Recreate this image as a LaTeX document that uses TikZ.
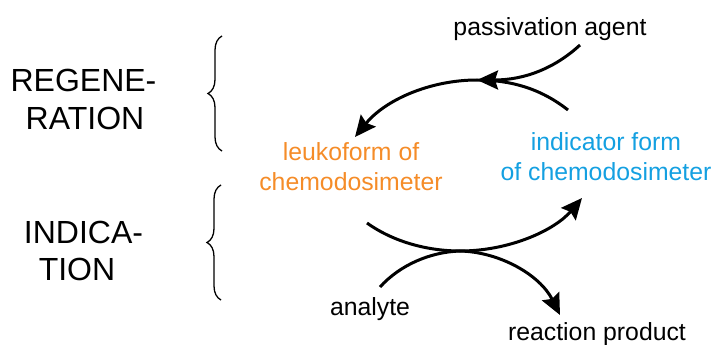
\documentclass[tikz,border=0pt]{standalone}
\usepackage{fontspec}
\setmainfont{Liberation Sans}
\usetikzlibrary{arrows.meta,decorations.pathreplacing}
\definecolor{leuko}{RGB}{245,140,40}
\definecolor{indic}{RGB}{20,160,225}
\begin{document}
\begin{tikzpicture}[x=1pt,y=-1pt,
  lbl/.style={inner sep=0pt,anchor=base,font=\fontsize{24.8}{30}\selectfont},
  biglbl/.style={inner sep=0pt,anchor=base,font=\fontsize{32}{37}\selectfont},
  flow/.style={line width=3pt,-{Stealth[length=21pt,width=19pt,inset=3pt]}},
  brc/.style={line width=1.3pt,decorate,decoration={brace,amplitude=14pt,aspect=0.5}}]
\useasboundingbox (0,0) rectangle (715,345);
% left labels
\node[biglbl] (r1) at (83.5,92) {REGENE-};
\node[biglbl] (r2) at (85,129) {RATION};
\node[biglbl] (i1) at (83.5,243) {INDICA-};
\node[biglbl] (i2) at (77,280) {TION};
% braces
\coordinate (b1b) at (222,151);
\coordinate (b1t) at (222,36);
\coordinate (b2b) at (221,300);
\coordinate (b2t) at (221,185);
\draw[brc] (b1b) -- (b1t);
\draw[brc] (b2b) -- (b2t);
% texts
\node[lbl,text=leuko] (l1) at (351,160) {leukoform of};
\node[lbl,text=leuko] (l2) at (351,190) {chemodosimeter};
\node[lbl,text=indic] (f1) at (606,150) {indicator form};
\node[lbl,text=indic] (f2) at (606,180) {of chemodosimeter};
\node[lbl] (pa) at (550,36) {passivation agent};
\node[lbl] (an) at (370,315) {analyte};
\node[lbl] (rp) at (597,340) {reaction product};
% regeneration
\coordinate (gS) at (568,110);
\coordinate (gM) at (477,80);
\coordinate (gE) at (355,137);
\coordinate (pS) at (580,45);
\draw[flow] (gS) .. controls (540,88) and (510,80) .. (gM)
  .. controls (430,80) and (385,100) .. (gE);
\draw[flow] (pS) .. controls (555,68) and (525,80) .. (gM);
% indication
\coordinate (dS) at (367,223);
\coordinate (dM) at (460,251);
\coordinate (dE) at (582,198);
\coordinate (aS) at (380,287);
\coordinate (aE) at (560,315);
\draw[flow] (dS) .. controls (395,243) and (430,251) .. (dM)
  .. controls (510,251) and (555,230) .. (dE);
\draw[flow] (aS) .. controls (400,265) and (430,252) .. (dM)
  .. controls (500,252) and (540,275) .. (aE);
\end{tikzpicture}
\end{document}
